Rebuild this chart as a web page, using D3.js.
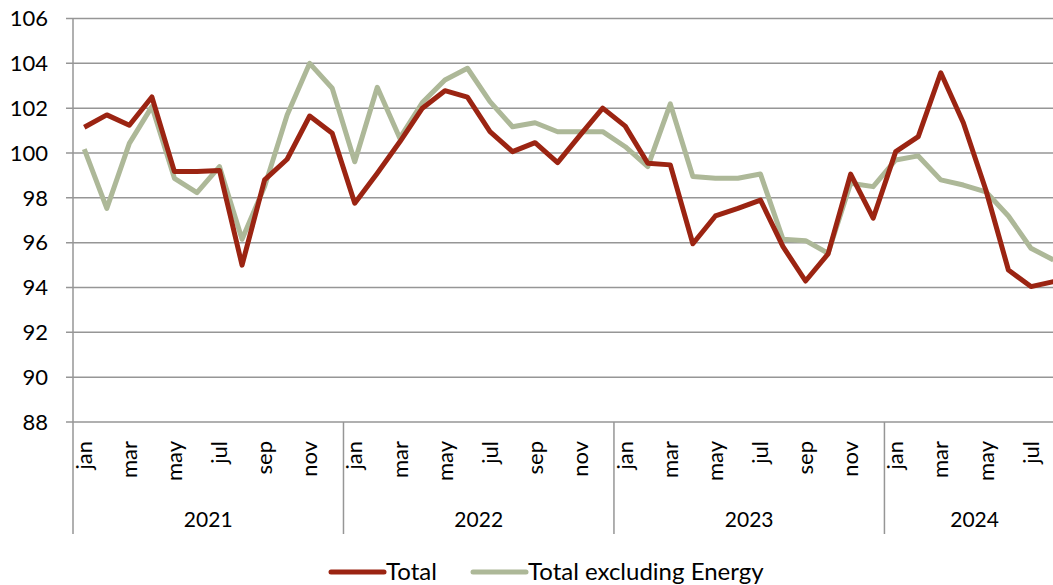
<!DOCTYPE html>
<html>
<head>
<meta charset="utf-8">
<script src="https://cdn.jsdelivr.net/npm/d3@7"></script>
<style>
  body { margin: 0; background: #fff; }
  svg { display: block; font-family: Lato, "Open Sans", sans-serif; }
</style>
</head>
<body>
<div id="chart"></div>
<script>
const years = ['2021', '2022', '2023', '2024'];
const monthNames = ['jan', 'feb', 'mar', 'apr', 'may', 'jun', 'jul', 'aug', 'sep', 'oct', 'nov', 'dec'];
const monthsInYear = [12, 12, 12, 8];
const yTicks = [88, 90, 92, 94, 96, 98, 100, 102, 104, 106];

const total = [
  101.15, 101.7, 101.24, 102.5, 99.17, 99.17, 99.22, 95.0, 98.8, 99.72, 101.65, 100.88,
  97.76, 99.1, 100.5, 102.0, 102.78, 102.49, 100.95, 100.06, 100.46, 99.57, 100.8, 102.0,
  101.2, 99.54, 99.47, 95.95, 97.19, 97.53, 97.9, 95.82, 94.29, 95.5, 99.06, 97.09,
  100.06, 100.73, 103.58, 101.35, 98.35, 94.78, 94.04, 94.26
];
const exEnergy = [
  100.17, 97.53, 100.43, 102.07, 98.87, 98.23, 99.39, 96.15, 98.5, 101.7, 104.0, 102.89,
  99.61, 102.93, 100.66, 102.25, 103.26, 103.78, 102.29, 101.17, 101.35, 100.95, 100.95, 100.95,
  100.28, 99.39, 102.19, 98.95, 98.87, 98.87, 99.06, 96.15, 96.09, 95.53, 98.65, 98.5,
  99.69, 99.87, 98.8, 98.57, 98.27, 97.19, 95.75, 95.23
];

const width = 1053;
const height = 585;
const plotLeft = 73;
const plotTop = 18.5;
const plotBottom = 422;
const monthW = 22.54;

// one entry per month, keyed like 2021-0
const months = [];
years.forEach((yr, i) => {
  for (let m = 0; m < monthsInYear[i]; m++) months.push({ key: yr + '-' + m, year: yr, m: m });
});

const x = d3.scaleBand()
  .domain(months.map(d => d.key))
  .range([plotLeft, plotLeft + months.length * monthW]);

const y = d3.scaleLinear()
  .domain([88, 106])
  .range([plotBottom, plotTop]);

const svg = d3.select('#chart')
  .append('svg')
  .attr('width', width)
  .attr('height', height);

// horizontal gridlines
svg.append('g')
  .selectAll('line')
  .data(yTicks)
  .enter().append('line')
  .attr('x1', plotLeft - 7)
  .attr('x2', x.range()[1])
  .attr('y1', d => y(d))
  .attr('y2', d => y(d))
  .attr('stroke', '#969696')
  .attr('stroke-width', 1.5);

svg.append('g')
  .selectAll('text')
  .data(yTicks)
  .enter().append('text')
  .attr('x', 48)
  .attr('y', d => y(d))
  .attr('dy', '0.35em')
  .attr('text-anchor', 'end')
  .attr('font-size', 22)
  .attr('fill', '#000')
  .text(d => d);

// y axis line
svg.append('line')
  .attr('x1', plotLeft).attr('x2', plotLeft)
  .attr('y1', plotTop).attr('y2', 534)
  .attr('stroke', '#969696')
  .attr('stroke-width', 1.5);

// year separators
const yearStarts = years.map(yr => months.find(d => d.year === yr).key);
svg.append('g')
  .selectAll('line')
  .data(yearStarts.slice(1))
  .enter().append('line')
  .attr('x1', d => x(d)).attr('x2', d => x(d))
  .attr('y1', plotBottom).attr('y2', 534)
  .attr('stroke', '#969696')
  .attr('stroke-width', 1.5);

// month labels (every other month)
svg.append('g')
  .selectAll('text')
  .data(months.filter(d => d.m % 2 === 0))
  .enter().append('text')
  .attr('transform', d => `translate(${x(d.key) + x.bandwidth() / 2},441) rotate(-90)`)
  .attr('dy', '0.35em')
  .attr('text-anchor', 'end')
  .attr('font-size', 22)
  .attr('fill', '#000')
  .text(d => monthNames[d.m]);

// year labels, centred on the months each year has
svg.append('g')
  .selectAll('text')
  .data(years)
  .enter().append('text')
  .attr('x', (yr, i) => x(yearStarts[i]) + monthW * monthsInYear[i] / 2)
  .attr('y', 527)
  .attr('text-anchor', 'middle')
  .attr('font-size', 21)
  .attr('fill', '#000')
  .text(d => d);

const line = d3.line()
  .x((d, i) => x(months[i].key) + x.bandwidth() / 2)
  .y(d => y(d));

svg.append('path')
  .datum(exEnergy)
  .attr('fill', 'none')
  .attr('stroke', '#adb898')
  .attr('stroke-width', 5)
  .attr('stroke-linejoin', 'round')
  .attr('d', line);

svg.append('path')
  .datum(total)
  .attr('fill', 'none')
  .attr('stroke', '#9b2412')
  .attr('stroke-width', 5)
  .attr('stroke-linejoin', 'round')
  .attr('d', line);

// legend
const legend = [
  { name: 'Total', color: '#9b2412', x: 331 },
  { name: 'Total excluding Energy', color: '#adb898', x: 473 }
];
const lg = svg.append('g')
  .selectAll('g')
  .data(legend)
  .enter().append('g')
  .attr('transform', d => `translate(${d.x},572)`);
lg.append('line')
  .attr('x1', 0).attr('x2', 53)
  .attr('stroke', d => d.color)
  .attr('stroke-width', 5)
  .attr('stroke-linecap', 'round');
lg.append('text')
  .attr('x', 55)
  .attr('dy', '0.35em')
  .attr('font-size', 24)
  .attr('fill', '#000')
  .text(d => d.name);
</script>
</body>
</html>
